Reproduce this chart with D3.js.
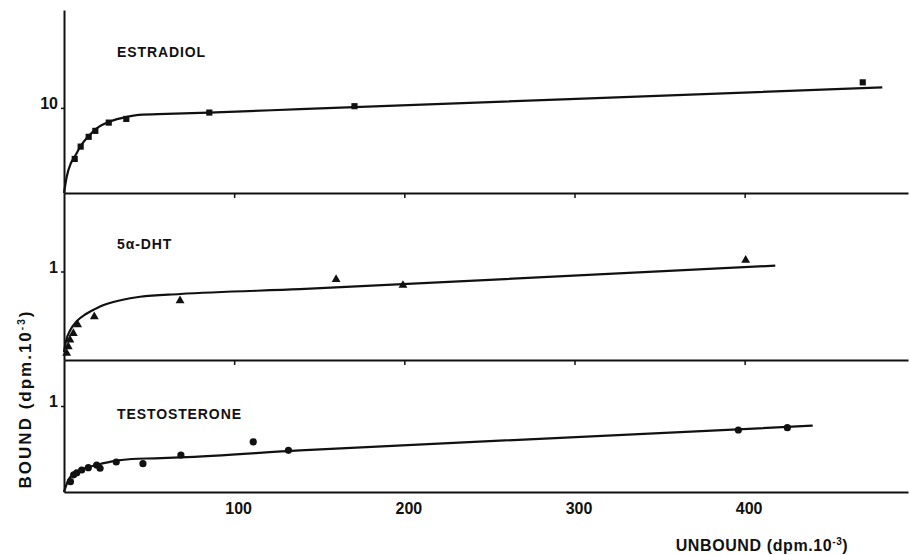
<!DOCTYPE html>
<html>
<head>
<meta charset="utf-8">
<script src="https://cdn.jsdelivr.net/npm/d3@7"></script>
<style>
    body { margin: 0; background: #fff; }
    svg { display: block; }
    text { font-family: "Liberation Sans", Arial, sans-serif; fill: #111; }
</style>
</head>
<body>
<div id="container"></div>
<script>
// x axis ticks (unbound, dpm.10^-3)
var x_ticks = [100, 200, 300, 400]

// estradiol: squares + fitted curve
var estradiol_x = [6.3, 9.8, 14.5, 18.4, 26.3, 36.6, 85.4, 170.7, 469.4]
var estradiol_y = [4.0, 5.45, 6.6, 7.3, 8.27, 8.7, 9.45, 10.2, 13.0]
var estradiol_curve_x = [0, 1.6, 4.1, 6.3, 9.8, 14.5, 19.2, 27, 36.8, 44, 60.3, 85.2, 138.7, 480.9]
var estradiol_curve_y = [0, 1.92, 3.53, 4.27, 5.53, 6.7, 7.6, 8.4, 8.95, 9.18, 9.3, 9.45, 9.85, 12.4]

// 5a-DHT: triangles
var dht_x = [1.6, 2.5, 3.5, 5.5, 8.0, 17.8, 68.2, 159.9, 199.2, 400.6]
var dht_y = [0.076, 0.151, 0.227, 0.30, 0.40, 0.49, 0.67, 0.91, 0.844, 1.128]
var dht_curve_x = [0, 1.2, 3.5, 7.6, 12.9, 17.6, 21.2, 33.9, 44.7, 68.2, 138.7, 418]
var dht_curve_y = [0.09, 0.215, 0.33, 0.44, 0.52, 0.57, 0.605, 0.678, 0.715, 0.746, 0.80, 1.066]

// testosterone: circles
var testo_x = [3.8, 5.7, 7.5, 10.4, 14.3, 19.2, 21.2, 30.7, 46.4, 68.7, 111.2, 131.9, 396.3, 425.1]
var testo_y = [0.12, 0.20, 0.224, 0.256, 0.283, 0.314, 0.276, 0.349, 0.329, 0.43, 0.584, 0.485, 0.721, 0.748]
var testo_curve_x = [0, 1.2, 2.5, 6.5, 12.3, 19.2, 30.6, 39.8, 53.5, 68.2, 138.7, 440]
var testo_curve_y = [0, 0.07, 0.14, 0.217, 0.276, 0.314, 0.364, 0.384, 0.392, 0.403, 0.485, 0.771]

main()

function main() {
    const width = 910
    const height = 555
    const x = d3.scaleLinear().domain([0, 496]).range([64, 908])

    const svg = d3.select("#container").append("svg")
        .attr("width", width)
        .attr("height", height)

    var panels = [
        {name: "ESTRADIOL", y: d3.scaleLinear().domain([0, 21.5]).range([193, 10]), tick: 10,
         px: estradiol_x, py: estradiol_y, cx: estradiol_curve_x, cy: estradiol_curve_y, shape: "square", label_y: 57},
        {name: "5\u03b1-DHT", y: d3.scaleLinear().domain([0, 1.887]).range([360, 193]), tick: 1,
         px: dht_x, py: dht_y, cx: dht_curve_x, cy: dht_curve_y, shape: "triangle", label_y: 249},
        {name: "TESTOSTERONE", y: d3.scaleLinear().domain([0, 1.535]).range([492, 360]), tick: 1,
         px: testo_x, py: testo_y, cx: testo_curve_x, cy: testo_curve_y, shape: "circle", label_y: 419}
    ]

    panels.forEach((p, i) => draw_panel(svg, x, p, i === panels.length - 1))

    // axis titles
    var xt = svg.append("text")
        .attr("x", 762)
        .attr("y", 551)
        .attr("text-anchor", "middle")
        .style("font-size", "16px")
        .style("font-weight", "bold")
        .style("letter-spacing", "0.6px")
        .text("UNBOUND (dpm.10")
    xt.append("tspan").attr("dy", -6).style("font-size", "10px").text("-3")
    xt.append("tspan").attr("dy", 6).text(")")

    var yt = svg.append("text")
        .attr("transform", "translate(31,399) rotate(-90)")
        .attr("text-anchor", "middle")
        .style("font-size", "17px")
        .style("font-weight", "bold")
        .style("letter-spacing", "2px")
        .text("BOUND  (dpm.10")
    yt.append("tspan").attr("dy", -6).style("font-size", "10px").text("-3")
    yt.append("tspan").attr("dy", 6).text(")")
}

function draw_panel(svg, x, p, last) {
    const y = p.y
    const base = y.range()[0]

    // horizontal axis of the panel
    var ax = svg.append("g")
        .attr("transform", `translate(0,${base})`)
        .call(d3.axisBottom(x).tickValues(x_ticks).tickSize(last ? 0 : 5).tickSizeOuter(0)
            .tickFormat(last ? d3.format("d") : ""))
    ax.select(".domain").attr("stroke", "#111").attr("stroke-width", 2)
    ax.selectAll(".tick line").attr("stroke", "#111").attr("stroke-width", 1.5)
    ax.selectAll(".tick text")
        .attr("dx", 4)
        .attr("y", 11)
        .attr("dy", "0.71em")
        .style("font-size", "16px")
        .style("font-weight", "bold")
        .attr("fill", "#111")

    // vertical axis piece
    var ay = svg.append("g")
        .attr("transform", "translate(64,0)")
        .call(d3.axisLeft(y).tickValues([p.tick]).tickFormat(d3.format("d"))
            .tickSize(3).tickSizeOuter(0).tickPadding(3))
    ay.select(".domain").attr("stroke", "#111").attr("stroke-width", 2)
    ay.selectAll(".tick line").attr("stroke", "#111").attr("stroke-width", 1.5)
    ay.selectAll(".tick text")
        .attr("dy", "0.05em")
        .style("font-size", "16px")
        .style("font-weight", "bold")
        .attr("fill", "#111")

    // fitted curve
    var curve = p.cx.map((d, i) => [d, p.cy[i]])
    svg.append("path")
        .datum(curve)
        .attr("fill", "none")
        .attr("stroke", "#111")
        .attr("stroke-width", 2.2)
        .attr("d", d3.line().x(d => x(d[0])).y(d => y(d[1])).curve(d3.curveMonotoneX))

    // points
    var pts = p.px.map((d, i) => ({x: d, y: p.py[i]}))
    if (p.shape === "circle") {
        svg.append("g").selectAll("circle")
            .data(pts)
            .enter()
            .append("circle")
            .attr("cx", d => x(d.x))
            .attr("cy", d => y(d.y))
            .attr("r", 3.6)
            .attr("fill", "#111")
    } else {
        var sym = d3.symbol()
            .type(p.shape === "square" ? d3.symbolSquare : d3.symbolTriangle)
            .size(p.shape === "square" ? 38 : 34)
        svg.append("g").selectAll("path")
            .data(pts)
            .enter()
            .append("path")
            .attr("transform", d => `translate(${x(d.x)},${y(d.y)})`)
            .attr("d", sym)
            .attr("fill", "#111")
    }

    // panel label
    svg.append("text")
        .attr("x", 117)
        .attr("y", p.label_y)
        .style("font-size", "14px")
        .style("font-weight", "bold")
        .style("letter-spacing", "0.9px")
        .text(p.name)
}
</script>
</body>
</html>
